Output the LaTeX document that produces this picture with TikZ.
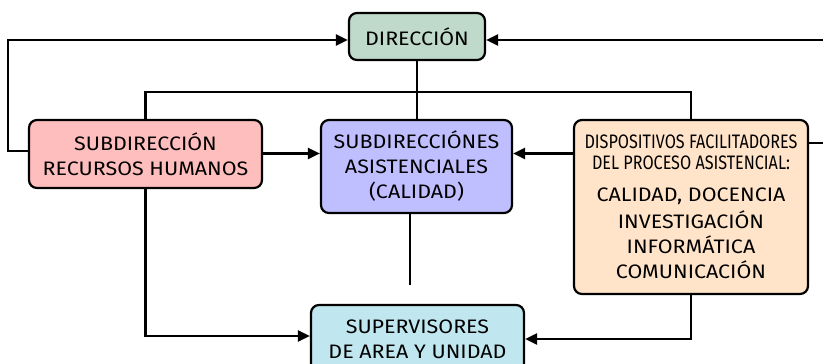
\documentclass[tikz,border=0pt]{standalone}
\usepackage{fontspec}
\setmainfont{Fira Sans}[FakeStretch=1.1]
\usetikzlibrary{arrows.meta,calc}
\definecolor{cdir}{HTML}{BFDACB}
\definecolor{crh}{HTML}{FFBEBE}
\definecolor{csub}{HTML}{BFBFFF}
\definecolor{cdisp}{HTML}{FFE4C9}
\definecolor{csup}{HTML}{C0E7EF}
\tikzset{
  box/.style={draw=black, line width=2.2pt, rounded corners=8pt, align=center, inner sep=0pt,
    font=\fontsize{19.5}{25}\selectfont},
  con/.style={line width=2.2pt},
  arr/.style={line width=2.2pt, -{Triangle[length=12pt,width=11pt]}},
}
\begin{document}
\begin{tikzpicture}[x=1pt,y=-1pt]
\useasboundingbox (0,0) rectangle (823,364);
\node[box, fill=cdir, minimum width=136pt, minimum height=47pt] (dir) at (417,36.5) {DIRECCIÓN};
\node[box, fill=crh, minimum width=233pt, minimum height=68pt] (rh) at (145.5,154) {SUBDIRECCIÓN\\RECURSOS HUMANOS};
\node[box, fill=csub, minimum width=191pt, minimum height=93pt] (sub) at (416.5,166.5) {SUBDIRECCIÓNES\\ASISTENCIALES\\(CALIDAD)};
\node[box, fill=cdisp, minimum width=234pt, minimum height=174pt] (disp) at (691,207)
 {\scalebox{0.754}[1]{DISPOSITIVOS FACILITADORES}\\[-4pt]\scalebox{0.754}[1]{DEL PROCESO ASISTENCIAL:}\\[7pt]CALIDAD, DOCENCIA\\[2pt]INVESTIGACIÓN\\INFORMÁTICA\\COMUNICACIÓN};
\node[box, fill=csup, minimum width=213pt, minimum height=68pt] (sup) at (417.5,339) {SUPERVISORES\\DE AREA Y UNIDAD};
\coordinate (yD) at (0,40);
\coordinate (yA) at (0,151);
\coordinate (yB) at (0,143);
\coordinate (yH) at (0,92);
\coordinate (yR) at (0,153.5);
\coordinate (yS) at (0,336);
\coordinate (yT) at (0,339);
\coordinate (subend) at (410,285);
\coordinate (rx) at (832,0);
\draw[arr] (rh.west |- yA) -- ++(-20,0) |- (dir.west |- yD);
\draw[arr] (disp.east |- yB) -- (rx |- yB) |- (dir.east |- yD);
\draw[con] (dir.south) -- (dir.south |- sub.north);
\draw[con] (rh.north) -- (rh.north |- yH) -- (disp.north |- yH) -- (disp.north);
\draw[arr] (rh.east |- yR) -- (sub.west |- yR);
\draw[arr] (disp.west |- yR) -- (sub.east |- yR);
\draw[con] (sub.south -| subend) -- (subend);
\draw[arr] (rh.south) |- (sup.west |- yS);
\draw[arr] (disp.south) |- (sup.east |- yT);
\end{tikzpicture}
\end{document}
